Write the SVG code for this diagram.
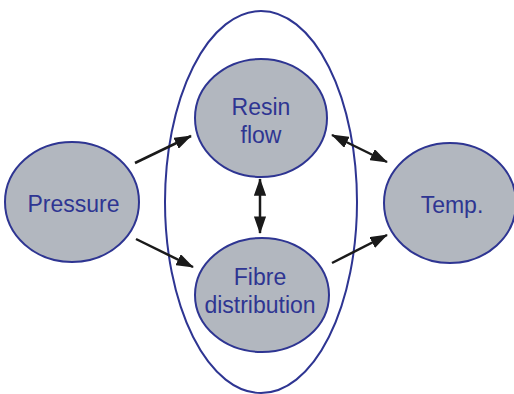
<svg xmlns="http://www.w3.org/2000/svg" width="514" height="394" viewBox="0 0 514 394">
<style>
.n{fill:#b2b7bf;stroke:#2e3592;stroke-width:2}
.t{font-family:"Liberation Sans",Arial,sans-serif;font-size:23px;fill:#2e3592;text-anchor:middle}
.c{stroke:#1a1a1a;stroke-width:2.5;fill:none}
</style>
<defs>
<marker id="ah" viewBox="0 0 10 7" refX="9.5" refY="3.5" markerWidth="7" markerHeight="4.9" orient="auto-start-reverse" markerUnits="strokeWidth">
<path d="M0,0 L10,3.5 L0,7 z" fill="#1a1a1a"/>
</marker>
</defs>
<rect width="514" height="394" fill="#fff"/>
<g id="outer"><ellipse cx="261" cy="202" rx="96" ry="191" fill="none" stroke="#2e3592" stroke-width="2"/></g>
<g id="resin"><ellipse class="n" cx="261" cy="118" rx="66" ry="59"/><text class="t" x="261" y="115">Resin</text><text class="t" x="261" y="143">flow</text></g>
<g id="fibre"><ellipse class="n" cx="262" cy="295" rx="67" ry="57"/><text class="t" x="260" y="285">Fibre</text><text class="t" x="260" y="313">distribution</text></g>
<g id="pressure"><ellipse class="n" cx="72" cy="202" rx="67" ry="60"/><text class="t" x="73.5" y="212">Pressure</text></g>
<g id="temp"><ellipse class="n" cx="450" cy="203" rx="66" ry="60"/><text class="t" x="452" y="213">Temp.</text></g>
<g id="connectors">
<line class="c" x1="135" y1="163" x2="191" y2="136" marker-end="url(#ah)"/>
<line class="c" x1="136" y1="239" x2="193" y2="267" marker-end="url(#ah)"/>
<line class="c" x1="332" y1="135" x2="387" y2="162" marker-start="url(#ah)" marker-end="url(#ah)"/>
<line class="c" x1="332" y1="263" x2="387" y2="235" marker-end="url(#ah)"/>
<line class="c" x1="260" y1="179" x2="260" y2="233" marker-start="url(#ah)" marker-end="url(#ah)"/>
</g>
</svg>
